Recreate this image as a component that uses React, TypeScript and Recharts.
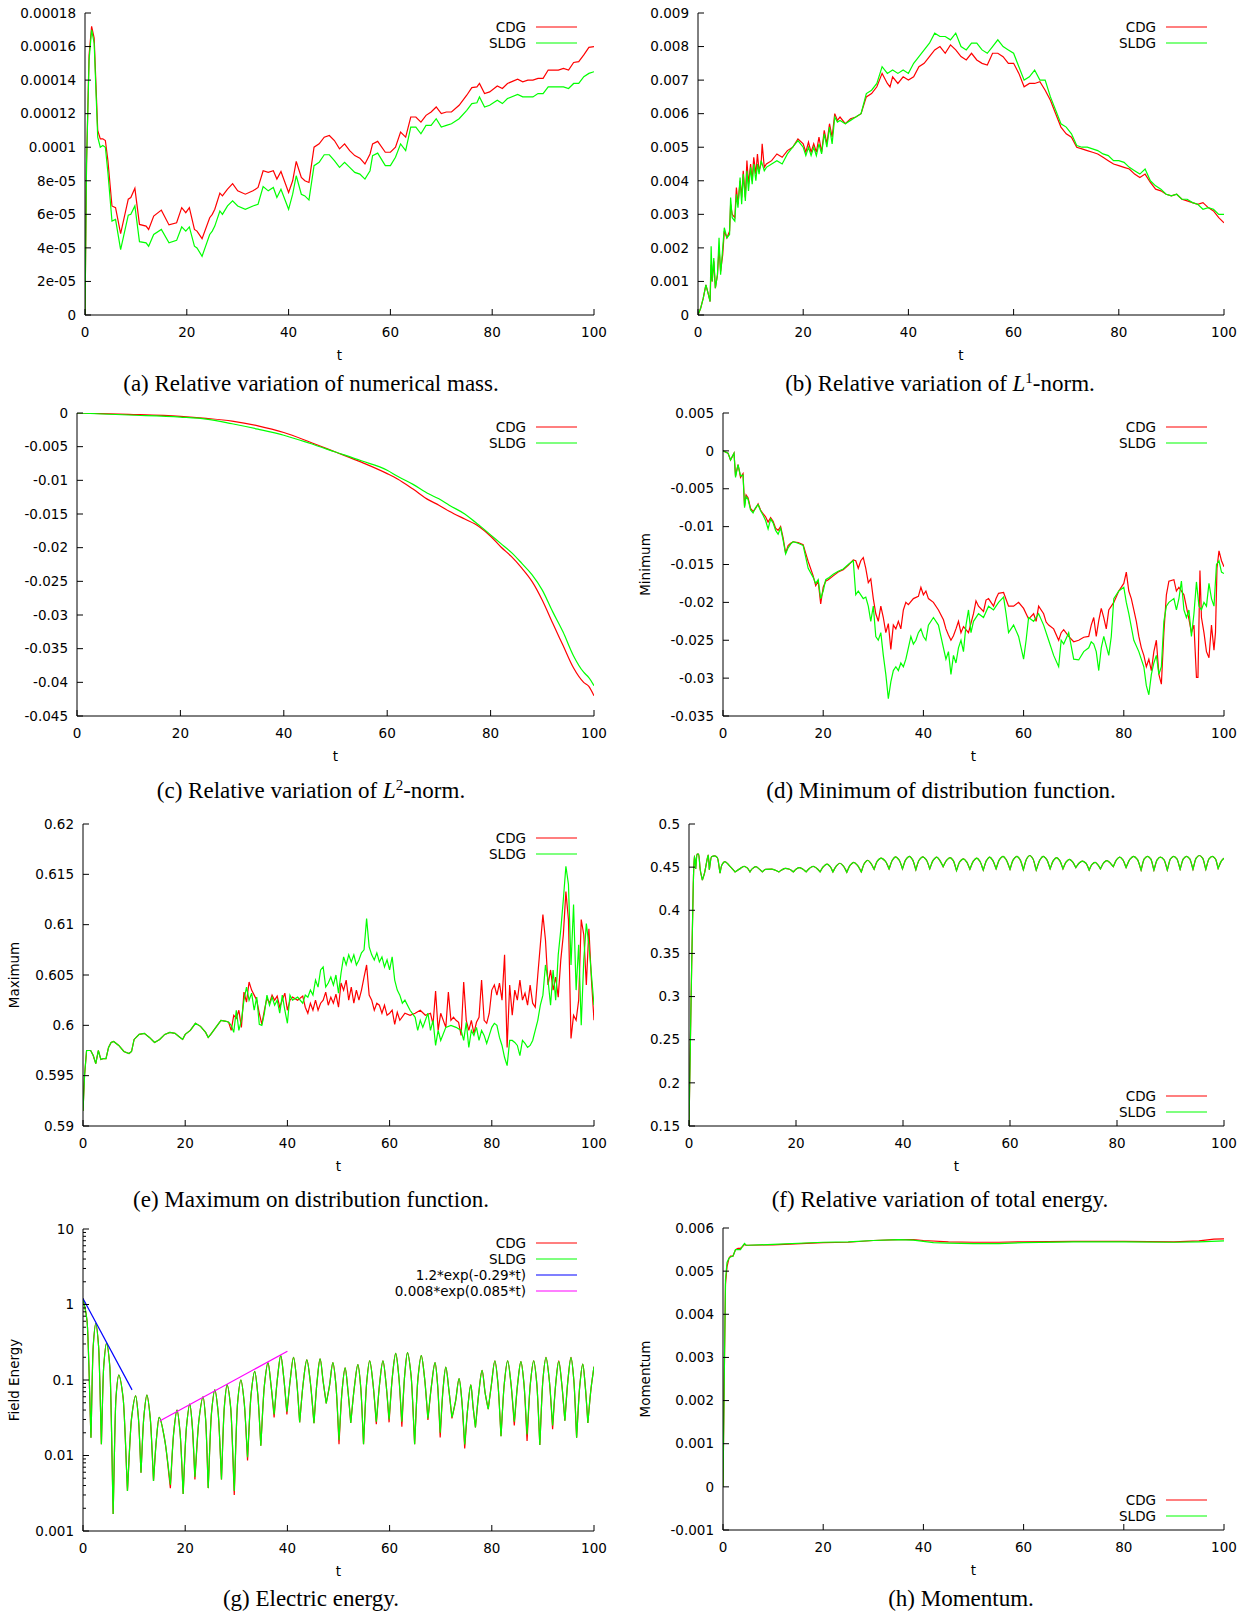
import React from "react"
import { LineChart, Line, XAxis, YAxis } from "recharts"

type Pt = [number, number]

const RED = "#ff0000"
const GREEN = "#00ff00"
const BLUE = "#0000ff"
const MAGENTA = "#ff00ff"
const SANS = "'DejaVu Sans', sans-serif"
const SERIF = "'Liberation Serif', serif"
const FS = 13.5

const X_TICKS = [0, 20, 40, 60, 80, 100]
const X_LABELS = ["0", "20", "40", "60", "80", "100"]

// (a) relative variation of numerical mass, in units of 1e-5
const massCdg: Pt[] = [[0,0],[0.3,9],[0.8,15.5],[1.3,17.2],[1.8,16.5],[2.5,11],[3,10.5],[3.5,10.5],[4,10.4],[4.5,9.2],[5.3,6.5],[6,6.4],[7,4.85],[8.5,6.9],[9,7.0],[9.8,7.55],[10.7,5.4],[12,5.3],[12.5,5.1],[13.5,5.9],[15,6.25],[16.5,5.37],[18,5.5],[19,6.4],[19.8,6.1],[20.5,6.4],[21.5,5.1],[22,5.0],[23,4.55],[24.5,5.8],[25,6.0],[25.5,6.3],[26.5,7.26],[27,7.1],[28,7.5],[29,7.83],[30,7.4],[31.5,7.2],[33,7.4],[34,7.6],[35,8.6],[36,8.5],[37,8.6],[37.7,8.1],[38.5,8.55],[40,7.3],[40.8,8.0],[41.5,9.15],[42.5,8.2],[43.2,8.0],[44,7.9],[45,10.0],[46,10.2],[47,10.6],[48,10.7],[49,10.4],[50,9.9],[51,10.2],[52,9.8],[53,9.5],[54,9.35],[55,9.0],[56,9.6],[56.5,10.2],[57.5,10.35],[59,9.7],[60,9.7],[61,10.0],[62,10.9],[63,10.6],[64,11.8],[65,11.8],[66,11.5],[67,11.9],[68,12.1],[69,12.4],[70,12.0],[71,12.1],[72,12.1],[73.5,12.5],[75,13.1],[76,13.55],[77,13.6],[77.5,13.8],[78.5,13.2],[79.5,13.3],[81,13.65],[82,13.5],[83,13.8],[85,14.05],[86,13.9],[87,14.0],[88,14.0],[89,14.1],[90,14.1],[91,14.6],[93,14.6],[94,14.7],[95,14.6],[96,15.05],[97,15.1],[98,15.5],[99,15.95],[100,16.0]]
const massSldg: Pt[] = [[0,0],[0.3,9],[0.8,15.2],[1.3,17.0],[1.8,16.2],[2.5,10.6],[3,10.0],[3.5,10.1],[4,10.0],[4.5,8.5],[5.3,5.6],[6,5.7],[7,3.9],[8.5,5.95],[9,6.0],[9.8,6.5],[10.7,4.37],[12,4.3],[12.5,4.1],[13.5,4.8],[15,5.1],[16.5,4.3],[18,4.45],[19,5.25],[19.8,5.0],[20.5,5.25],[21.5,4.1],[22,4.0],[23,3.5],[24.5,4.8],[25,5.0],[25.5,5.3],[26.5,6.2],[27,6.0],[28,6.5],[29,6.8],[30,6.5],[31.5,6.3],[33,6.5],[34,6.6],[35,7.65],[36,7.4],[37,7.6],[37.7,7.0],[38.5,7.5],[40,6.3],[40.8,7.2],[41.5,8.3],[42.5,7.2],[43.2,7.1],[44,6.85],[45,8.9],[46,9.1],[47,9.55],[48,9.55],[49,9.2],[50,8.8],[51,9.1],[52,8.8],[53,8.5],[54,8.4],[55,8.1],[56,8.6],[56.5,9.5],[57.5,9.65],[59,8.9],[60,8.9],[61,9.4],[62,10.2],[63,9.8],[64,11.2],[65,11.2],[66,10.8],[67,11.3],[68,11.3],[69,11.7],[70,11.2],[71,11.3],[72,11.4],[73.5,11.7],[75,12.2],[76,12.6],[77,12.65],[77.5,13.0],[78.5,12.4],[79.5,12.5],[81,12.8],[82,12.6],[83,12.9],[85,13.15],[86,13.0],[87,13.0],[88,13.0],[89,13.2],[90,13.2],[91,13.6],[93,13.6],[94,13.6],[95,13.5],[96,13.8],[97,13.8],[98,14.2],[99,14.4],[100,14.5]]
const massTicks = [0, 2, 4, 6, 8, 10, 12, 14, 16, 18]
const massLabels = ["0", "2e-05", "4e-05", "6e-05", "8e-05", "0.0001", "0.00012", "0.00014", "0.00016", "0.00018"]

// (b) relative variation of L1-norm, units of 1e-3
const l1Cdg: Pt[] = [[0,0],[0.5,0.2],[1,0.5],[1.5,0.9],[2,0.6],[2.3,0.4],[2.5,1.5],[2.7,1.0],[3,1.6],[3.3,0.8],[3.7,1.2],[4,2.0],[4.3,1.3],[4.7,1.8],[5,2.5],[5.5,2.3],[6,2.5],[6.2,3.3],[6.5,3.0],[7,2.9],[7.3,3.8],[7.6,3.3],[8,4.0],[8.3,3.5],[8.6,4.3],[9,3.5],[9.3,4.6],[9.6,3.9],[10,4.5],[10.3,4.0],[10.6,4.7],[11,4.2],[11.3,4.8],[11.6,4.3],[12,4.5],[12.2,5.1],[12.6,4.4],[13,4.5],[14,4.6],[15,4.8],[16,4.7],[17,4.9],[18,5.0],[19,5.25],[20,5.1],[20.5,4.85],[21,5.15],[21.5,4.85],[22,5.1],[22.5,4.85],[23,5.3],[23.5,4.85],[24,5.5],[24.5,5.1],[25,5.7],[25.5,5.3],[26,6.0],[26.5,5.8],[27,5.9],[28,5.7],[29,5.85],[30,5.9],[31,6.0],[32,6.5],[33,6.6],[34,6.8],[35,7.2],[36,6.9],[36.5,6.8],[37,7.1],[38,6.9],[39,7.1],[40,7.0],[41,7.1],[42,7.4],[43,7.5],[44,7.7],[45,7.9],[46,8.0],[47,7.8],[48,8.05],[49,7.9],[50,7.7],[51,7.6],[52,7.8],[53,7.6],[54,7.5],[55,7.45],[56,7.8],[57,7.8],[58,7.7],[59,7.5],[60,7.5],[61,7.2],[62,6.8],[63,6.9],[64,6.9],[65,6.95],[66,6.7],[67,6.4],[68,6.0],[69,5.6],[70,5.4],[71,5.3],[72,5.0],[73,4.95],[74,4.9],[75,4.85],[76,4.8],[77,4.7],[78,4.6],[79,4.5],[80,4.45],[81,4.4],[82,4.35],[83,4.2],[84,4.1],[85,4.2],[86,3.95],[87,3.75],[88,3.7],[89,3.6],[90,3.55],[91,3.6],[92,3.45],[93,3.4],[94,3.35],[95,3.3],[96,3.35],[97,3.2],[98,3.1],[99,2.9],[100,2.75]]
const l1Sldg: Pt[] = [[0,0],[0.5,0.2],[1,0.5],[1.5,0.9],[2,0.6],[2.3,0.4],[2.5,2.05],[2.7,1.0],[3,1.7],[3.3,0.8],[3.7,1.2],[4,2.3],[4.3,1.2],[4.7,2.0],[5,2.6],[5.5,2.3],[6,2.4],[6.2,3.5],[6.5,2.9],[7,2.8],[7.3,3.6],[7.6,3.2],[8,4.1],[8.3,3.3],[8.6,4.2],[9,3.4],[9.3,4.3],[9.6,3.7],[10,4.4],[10.3,3.9],[10.6,4.5],[11,4.0],[11.3,4.5],[11.6,4.2],[12,4.6],[12.6,4.3],[13,4.4],[14,4.5],[15,4.6],[16,4.5],[17,4.8],[18,5.0],[19,5.2],[20,5.0],[20.5,4.75],[21,5.0],[21.5,4.75],[22,5.0],[22.5,4.75],[23,5.1],[23.5,4.8],[24,5.4],[24.5,5.0],[25,5.6],[25.5,5.1],[26,5.9],[26.5,5.75],[27,5.8],[28,5.7],[29,5.8],[30,5.9],[31,6.0],[32,6.6],[33,6.7],[34,6.9],[35,7.4],[36,7.2],[37,7.3],[38,7.2],[39,7.3],[40,7.2],[41,7.5],[42,7.7],[43,7.9],[44,8.1],[45,8.4],[46,8.3],[47,8.3],[48,8.2],[49,8.4],[50,8.0],[51,7.9],[52,8.1],[53,8.1],[54,7.9],[55,7.8],[56,8.0],[57,8.2],[58,8.0],[59,7.9],[60,7.8],[61,7.4],[62,7.0],[63,7.1],[64,7.3],[65,7.0],[66,7.0],[67,6.5],[68,6.1],[69,5.7],[70,5.6],[71,5.4],[72,5.05],[73,5.0],[74,5.0],[75,4.95],[76,4.9],[77,4.8],[78,4.75],[79,4.6],[80,4.6],[81,4.55],[82,4.4],[83,4.3],[84,4.2],[85,4.35],[86,4.0],[87,3.85],[88,3.75],[89,3.6],[90,3.55],[91,3.6],[92,3.45],[93,3.45],[94,3.35],[95,3.3],[96,3.15],[97,3.2],[98,3.15],[99,3.0],[100,3.0]]
const l1Ticks = [0, 1, 2, 3, 4, 5, 6, 7, 8, 9]
const l1Labels = ["0", "0.001", "0.002", "0.003", "0.004", "0.005", "0.006", "0.007", "0.008", "0.009"]

// (c) relative variation of L2-norm, units of 1e-3
const l2Cdg: Pt[] = [[0,0],[10,-0.2],[20,-0.5],[25,-0.8],[30,-1.2],[35,-1.9],[40,-2.9],[45,-4.3],[50,-5.8],[55,-7.3],[60,-9.0],[62,-9.8],[65,-11.3],[68,-12.9],[70,-13.7],[72,-14.6],[75,-15.75],[77,-16.5],[78,-17.0],[80,-18.3],[82,-19.9],[84,-21.3],[86,-23.0],[88,-25.0],[90,-27.8],[92,-31.2],[94,-34.5],[96,-37.8],[98,-40.0],[99,-40.6],[100,-42.0]]
const l2Sldg: Pt[] = [[0,0],[10,-0.3],[20,-0.6],[25,-0.9],[30,-1.6],[35,-2.4],[40,-3.3],[45,-4.5],[50,-5.8],[55,-7.1],[60,-8.5],[62,-9.4],[65,-10.6],[68,-12.0],[70,-12.75],[72,-13.7],[75,-15.0],[77,-16.2],[78,-16.8],[80,-18.1],[82,-19.4],[84,-20.7],[86,-22.3],[88,-24.0],[90,-26.3],[92,-29.5],[94,-32.5],[96,-36.0],[98,-38.5],[99,-39.3],[100,-40.5]]
const l2Ticks = [-45, -40, -35, -30, -25, -20, -15, -10, -5, 0]
const l2Labels = ["-0.045", "-0.04", "-0.035", "-0.03", "-0.025", "-0.02", "-0.015", "-0.01", "-0.005", "0"]

// (d) minimum of distribution function, units of 1e-3
const minCdg: Pt[] = [[0,0],[1,-0.3],[1.5,-1.2],[2.2,-0.3],[2.5,-3.3],[3,-1.8],[3.5,-3.5],[4,-3.0],[4.3,-7.3],[4.6,-5.8],[5,-6.2],[5.5,-7.6],[6,-8.0],[6.5,-7.6],[7,-7.0],[7.5,-7.8],[8,-8.3],[8.5,-8.7],[9,-9.4],[9.5,-8.8],[10,-9.3],[10.5,-10.2],[11,-10.5],[11.5,-10.0],[12,-11.5],[12.5,-13.5],[13,-12.5],[13.5,-12.2],[14,-12.0],[15,-12.1],[16,-12.4],[16.5,-13.5],[17,-14.6],[18,-16.5],[18.5,-17.8],[19,-17.2],[19.5,-20.2],[20,-18.0],[20.5,-17.2],[21,-17.0],[22,-16.5],[23,-16.0],[24,-15.7],[25,-15.1],[26,-14.4],[26.5,-14.5],[27,-15.5],[27.5,-14.5],[28,-14.1],[28.5,-15.5],[29,-17.4],[29.5,-16.9],[30,-19.5],[30.5,-21.5],[31,-22.5],[31.5,-20.5],[32,-22.0],[32.5,-24.0],[33,-22.8],[33.5,-26.2],[34,-23.0],[34.5,-23.5],[35,-22.5],[35.5,-23.5],[36,-21.0],[36.5,-20.0],[37,-20.3],[38,-19.5],[39,-19.2],[39.5,-18.0],[40,-19.0],[40.5,-18.5],[41,-19.5],[42,-20.0],[43,-21.0],[44,-22.3],[44.5,-23.5],[45,-24.3],[45.5,-25.0],[46,-24.4],[46.5,-23.5],[47,-22.5],[47.5,-24.0],[48,-23.2],[49,-24.0],[50,-21.5],[50.5,-19.8],[51,-20.5],[52,-21.2],[52.5,-19.7],[53,-19.5],[54,-20.5],[54.5,-19.5],[55,-18.8],[56,-18.7],[57,-20.5],[58,-20.5],[59,-20.0],[60,-20.8],[61,-22.2],[62,-21.5],[62.5,-22.5],[63,-20.5],[64,-21.5],[64.5,-22.6],[65,-23.0],[66,-23.5],[67,-25.0],[67.5,-24.0],[68,-23.6],[69,-24.5],[70,-25.2],[71,-25.0],[72,-24.6],[73,-24.5],[73.5,-23.0],[74,-22.0],[74.5,-24.5],[75,-22.4],[75.5,-20.8],[76,-22.0],[76.5,-23.5],[77,-21.0],[78,-20.0],[79,-18.5],[80,-17.5],[80.5,-16.0],[81,-18.5],[81.5,-19.5],[82,-21.0],[82.5,-22.5],[83,-24.5],[83.5,-26.0],[84,-27.0],[84.5,-28.5],[85,-27.5],[85.5,-29.0],[86,-26.5],[86.5,-25.0],[87,-29.5],[87.5,-30.8],[88,-24.0],[88.5,-19.0],[89,-17.2],[90,-17.0],[90.5,-18.5],[91,-18.0],[92,-19.0],[93,-22.2],[93.5,-24.0],[94,-23.0],[94.5,-29.9],[94.8,-29.9],[95.2,-15.8],[95.5,-22.0],[96,-24.0],[96.5,-26.5],[97,-27.3],[97.5,-23.0],[98,-26.3],[98.3,-24.0],[98.6,-15.5],[99,-13.2],[99.5,-14.5],[100,-15.3]]
const minSldg: Pt[] = [[0,0],[1,-0.3],[1.5,-1.2],[2.2,-0.3],[2.5,-3.5],[3,-1.8],[3.5,-3.3],[4,-3.2],[4.3,-7.5],[4.6,-6.0],[5,-6.4],[5.5,-7.8],[6,-8.2],[6.5,-7.5],[7,-7.1],[7.5,-7.9],[8,-8.5],[8.5,-9.2],[9,-10.3],[9.5,-9.0],[10,-9.5],[10.5,-10.5],[11,-11.0],[11.5,-10.2],[12,-11.8],[12.5,-13.6],[13,-12.8],[13.5,-12.3],[14,-12.0],[15,-12.2],[16,-12.5],[16.5,-14.0],[17,-15.5],[18,-16.7],[18.5,-17.5],[19,-17.0],[19.5,-19.5],[20,-18.5],[20.5,-17.0],[21,-16.8],[22,-16.3],[23,-15.9],[24,-15.6],[25,-15.0],[26,-14.5],[26.5,-19.0],[27,-18.5],[27.5,-19.0],[28,-19.5],[28.5,-19.3],[29,-20.5],[29.5,-22.5],[30,-20.5],[30.5,-24.5],[31,-25.0],[31.5,-24.0],[32,-27.0],[32.5,-29.5],[33,-32.7],[33.5,-30.5],[34,-29.0],[34.5,-28.5],[35,-29.0],[35.5,-28.0],[36,-28.5],[36.5,-27.5],[37,-26.0],[37.5,-24.5],[38,-25.5],[38.5,-25.0],[39,-24.0],[39.5,-23.5],[40,-24.5],[40.5,-25.0],[41,-23.0],[42,-22.0],[43,-23.0],[44,-26.0],[44.5,-27.5],[45,-26.5],[45.5,-29.5],[46,-27.0],[46.5,-28.0],[47,-26.0],[47.5,-25.0],[48,-26.5],[48.5,-23.0],[49,-21.0],[49.5,-24.0],[50,-22.5],[51,-21.5],[52,-22.0],[53,-20.5],[54,-21.0],[55,-20.0],[56,-19.3],[56.5,-21.5],[57,-24.0],[58,-23.0],[59,-24.5],[60,-27.5],[60.5,-25.0],[61,-22.0],[62,-22.5],[63,-21.5],[64,-23.0],[65,-25.0],[66,-27.0],[67,-28.5],[67.5,-25.0],[68,-25.5],[69,-24.0],[70,-27.5],[71,-27.6],[72,-26.5],[73,-26.0],[73.5,-25.2],[74,-25.5],[74.5,-26.5],[75,-29.0],[75.5,-26.0],[76,-24.5],[77,-27.0],[77.5,-24.5],[78,-19.5],[79,-18.5],[80,-18.0],[80.5,-20.0],[81,-21.5],[82,-25.0],[83,-26.5],[84,-28.5],[84.5,-31.0],[85,-32.2],[85.5,-29.5],[86,-28.0],[86.5,-27.0],[87,-29.5],[87.5,-28.5],[88,-22.5],[88.5,-20.5],[89,-20.0],[90,-19.5],[90.5,-21.0],[91,-19.5],[91.5,-17.2],[92,-21.0],[92.5,-22.0],[93,-21.0],[93.5,-24.5],[94,-21.5],[94.5,-17.3],[95,-20.5],[95.5,-21.0],[96,-20.0],[96.5,-20.5],[97,-17.5],[97.5,-19.5],[98,-20.5],[98.5,-15.0],[99,-14.5],[99.5,-16.0],[100,-16.2]]
const minTicks = [-35, -30, -25, -20, -15, -10, -5, 0, 5]
const minLabels = ["-0.035", "-0.03", "-0.025", "-0.02", "-0.015", "-0.01", "-0.005", "0", "0.005"]

// (e) maximum of distribution function
const maxCdg: Pt[] = [[0,0.5915],[0.3,0.595],[0.7,0.5975],[1.5,0.5975],[2,0.597],[2.5,0.5962],[3,0.5975],[3.5,0.5966],[4,0.5967],[4.5,0.5967],[5,0.5978],[5.5,0.5983],[6,0.5984],[7,0.598],[8,0.5974],[9,0.5972],[9.5,0.5974],[10,0.5986],[11,0.5991],[12,0.5992],[13,0.5988],[14,0.5983],[15,0.5986],[16,0.5991],[17,0.5993],[18,0.5992],[19,0.5988],[19.5,0.5986],[20,0.5991],[21,0.5995],[22,0.6002],[23,0.5999],[24,0.5993],[24.5,0.5988],[25,0.5991],[26,0.5998],[27,0.6005],[28,0.6004],[28.5,0.6003],[29,0.5995],[29.5,0.601],[30,0.6007],[30.5,0.6015],[31,0.5998],[31.5,0.6033],[32,0.6023],[32.5,0.6043],[33,0.6035],[33.5,0.603],[34,0.6025],[34.5,0.6012],[35,0.6001],[35.5,0.6015],[36,0.6027],[36.5,0.6022],[37,0.603],[37.5,0.6025],[38,0.6029],[38.5,0.6018],[39,0.6025],[39.5,0.6032],[40,0.6015],[40.5,0.6025],[41,0.6028],[42,0.6025],[43,0.6029],[43.5,0.6018],[44,0.6012],[44.5,0.6022],[45,0.6015],[45.5,0.6025],[46,0.6015],[46.5,0.6022],[47,0.6025],[47.5,0.6033],[48,0.602],[48.5,0.6028],[49,0.6022],[49.5,0.6031],[50,0.6018],[50.5,0.6042],[51,0.6035],[51.5,0.6045],[52,0.6025],[52.5,0.6038],[53,0.6022],[53.5,0.6035],[54,0.6025],[54.5,0.6035],[55,0.6048],[55.5,0.606],[56,0.603],[56.5,0.6025],[57,0.6015],[57.5,0.6022],[58,0.602],[58.5,0.6012],[59,0.602],[59.5,0.601],[60,0.6012],[60.5,0.6015],[61,0.6001],[61.5,0.6013],[62,0.6005],[63,0.6012],[64,0.601],[65,0.6012],[66,0.6015],[67,0.601],[68,0.6012],[68.5,0.6001],[69,0.6034],[69.5,0.5995],[70,0.6012],[71,0.5998],[71.5,0.6033],[72,0.6005],[72.5,0.6008],[73,0.6005],[73.5,0.6003],[74,0.599],[74.5,0.6043],[75,0.6005],[75.5,0.5995],[76,0.6005],[76.5,0.5992],[77,0.6003],[77.5,0.6008],[78,0.6045],[78.5,0.6005],[79,0.6002],[79.5,0.6012],[80,0.6035],[80.5,0.604],[81,0.603],[81.5,0.6042],[82,0.6025],[82.5,0.607],[83,0.5978],[83.5,0.604],[84,0.601],[84.5,0.6035],[85,0.6025],[85.5,0.6045],[86,0.6025],[86.5,0.6032],[87,0.602],[87.5,0.604],[88,0.6022],[88.5,0.6018],[89,0.605],[89.5,0.608],[90,0.611],[90.5,0.6085],[91,0.604],[91.5,0.6055],[92,0.6035],[92.5,0.6048],[93,0.6028],[93.5,0.6065],[94,0.609],[94.5,0.6133],[95,0.6105],[95.5,0.5987],[96,0.601],[96.5,0.6005],[97,0.6025],[97.5,0.6105],[98,0.609],[98.5,0.604],[99,0.6096],[99.5,0.6045],[100,0.6005]]
const maxSldg: Pt[] = [[0,0.5915],[0.3,0.595],[0.7,0.5975],[1.5,0.5975],[2,0.597],[2.5,0.5962],[3,0.5975],[3.5,0.5966],[4,0.5967],[4.5,0.5967],[5,0.5978],[5.5,0.5983],[6,0.5984],[7,0.598],[8,0.5974],[9,0.5972],[9.5,0.5974],[10,0.5986],[11,0.5991],[12,0.5992],[13,0.5988],[14,0.5983],[15,0.5986],[16,0.5991],[17,0.5993],[18,0.5992],[19,0.5988],[19.5,0.5986],[20,0.5991],[21,0.5995],[22,0.6002],[23,0.5999],[24,0.5993],[24.5,0.5988],[25,0.5991],[26,0.5998],[27,0.6005],[28,0.6004],[28.5,0.6003],[29,0.6],[29.5,0.5993],[30,0.6015],[30.5,0.5995],[31,0.6005],[31.5,0.6025],[32,0.6038],[32.5,0.6025],[33,0.6032],[33.5,0.6015],[34,0.6028],[34.5,0.6001],[35,0.6],[35.5,0.6012],[36,0.603],[36.5,0.602],[37,0.6028],[37.5,0.602],[38,0.6025],[38.5,0.6012],[39,0.603],[39.5,0.6015],[40,0.6002],[40.5,0.603],[41,0.6025],[42,0.6028],[43,0.6022],[43.5,0.603],[44,0.6028],[44.5,0.6035],[45,0.603],[45.5,0.6045],[46,0.6038],[46.5,0.6055],[47,0.6058],[47.5,0.6038],[48,0.6042],[48.5,0.6048],[49,0.604],[49.5,0.605],[50,0.6032],[50.5,0.6052],[51,0.6068],[51.5,0.606],[52,0.607],[52.5,0.6063],[53,0.607],[53.5,0.606],[54,0.6065],[54.5,0.6072],[55,0.6075],[55.5,0.6106],[56,0.6078],[56.5,0.607],[57,0.6065],[57.5,0.6072],[58,0.6063],[58.5,0.6068],[59,0.6058],[59.5,0.6065],[60,0.6055],[60.5,0.6068],[61,0.6045],[61.5,0.6035],[62,0.603],[62.5,0.6022],[63,0.6025],[64,0.6015],[65,0.6008],[65.5,0.5995],[66,0.6005],[66.5,0.5998],[67,0.6005],[67.5,0.6012],[68,0.5995],[68.5,0.6005],[69,0.598],[69.5,0.5995],[70,0.5985],[71,0.5998],[72,0.6],[73,0.5998],[74,0.5995],[74.5,0.5985],[75,0.6003],[75.5,0.5978],[76,0.5995],[76.5,0.599],[77,0.5998],[77.5,0.5985],[78,0.5995],[78.5,0.599],[79,0.5982],[79.5,0.599],[80,0.5998],[80.5,0.6002],[81,0.6],[81.5,0.5988],[82,0.598],[82.5,0.5968],[83,0.596],[83.5,0.5985],[84,0.5985],[84.5,0.5983],[85,0.598],[85.5,0.597],[86,0.5985],[86.5,0.5982],[87,0.5978],[87.5,0.598],[88,0.5985],[88.5,0.5995],[89,0.6005],[89.5,0.602],[90,0.603],[90.5,0.606],[91,0.6045],[91.5,0.602],[92,0.6055],[92.5,0.6025],[93,0.607],[93.5,0.6095],[94,0.6125],[94.5,0.6158],[95,0.614],[95.5,0.606],[96,0.612],[96.5,0.6035],[97,0.608],[97.5,0.6],[98,0.6065],[98.5,0.6101],[99,0.608],[99.5,0.605],[100,0.602]]
const maxTicks = [0.59, 0.595, 0.6, 0.605, 0.61, 0.615, 0.62]
const maxLabels = ["0.59", "0.595", "0.6", "0.605", "0.61", "0.615", "0.62"]

// (f) relative variation of total energy (both runs lie on top of each other)
const energyCdg: Pt[] = [[0,0.15],[0.4,0.3],[0.8,0.43],[1,0.463],[1.25,0.448],[1.5,0.465],[1.8,0.465],[2.1,0.447],[2.5,0.435],[2.9,0.443],[3.3,0.456],[3.6,0.464],[3.8,0.447],[4.2,0.462],[4.8,0.463],[5.3,0.461],[5.8,0.443],[6.1,0.452],[6.7,0.4565],[7.5,0.452],[8.6,0.4445],[9.5,0.448],[10.3,0.451],[10.9,0.449],[11.4,0.4445],[11.8,0.448],[12.5,0.4505],[13.1,0.448],[13.7,0.4445],[14.3,0.4475],[15.5,0.4478],[16.8,0.4445],[17.4,0.447],[18,0.4485],[18.8,0.4475],[19.5,0.4445],[20,0.4475],[20.6,0.4495],[21.3,0.4475],[21.9,0.4445],[22.5,0.4485],[23.2,0.451],[23.9,0.4485],[24.5,0.4445],[25.1,0.4505],[25.8,0.4535],[26.4,0.4505],[26.9,0.4445],[27.5,0.451],[28.2,0.4545],[28.9,0.451],[29.5,0.444],[30.1,0.452],[30.8,0.4555],[31.5,0.452],[32.2,0.4445],[32.8,0.4545],[33.4,0.458],[34,0.4545],[34.6,0.4475],[35.2,0.457],[35.9,0.4605],[36.7,0.457],[37.4,0.448],[38,0.458],[38.6,0.462],[39.3,0.458],[39.9,0.448],[40.5,0.4585],[41.2,0.4625],[41.8,0.4585],[42.4,0.447],[43,0.458],[43.7,0.462],[44.4,0.458],[45,0.448],[45.6,0.4575],[46.3,0.4615],[46.9,0.4575],[47.5,0.4505],[48.1,0.4575],[48.8,0.461],[49.4,0.4575],[50,0.446],[50.6,0.456],[51.3,0.4595],[51.9,0.456],[52.5,0.4475],[53.1,0.4565],[53.8,0.4605],[54.4,0.4565],[55,0.4465],[55.6,0.4575],[56.2,0.4615],[56.8,0.4575],[57.4,0.448],[58,0.4585],[58.7,0.4625],[59.3,0.4585],[60,0.4475],[60.6,0.4585],[61.3,0.4625],[61.9,0.4585],[62.5,0.447],[63.1,0.4595],[63.7,0.4635],[64.3,0.4595],[64.9,0.4465],[65.6,0.4585],[66.2,0.4625],[66.9,0.4585],[67.5,0.448],[68.1,0.4575],[68.7,0.461],[69.3,0.4575],[69.9,0.448],[70.5,0.456],[71.1,0.459],[71.7,0.456],[72.3,0.4495],[72.9,0.4545],[73.5,0.457],[74.2,0.4545],[74.8,0.4465],[75.3,0.453],[75.9,0.4555],[76.4,0.453],[76.9,0.448],[77.5,0.455],[78.1,0.4575],[78.7,0.455],[79.3,0.4505],[79.9,0.4585],[80.5,0.4615],[81.1,0.4585],[81.7,0.4495],[82.4,0.459],[83.1,0.4625],[83.8,0.459],[84.5,0.4465],[85.1,0.4595],[85.7,0.4625],[86.3,0.4595],[86.9,0.4465],[87.5,0.4585],[88.1,0.4615],[88.8,0.4585],[89.4,0.4465],[90,0.4595],[90.6,0.4625],[91.2,0.4595],[91.8,0.4475],[92.4,0.4595],[93,0.4625],[93.6,0.4595],[94.2,0.4475],[94.8,0.4605],[95.4,0.4635],[96,0.4605],[96.6,0.4475],[97.2,0.4595],[97.8,0.4625],[98.4,0.4595],[98.9,0.4485],[99.5,0.457],[100,0.4605]]
const energySldg: Pt[] = energyCdg
const energyTicks = [0.15, 0.2, 0.25, 0.3, 0.35, 0.4, 0.45, 0.5]
const energyLabels = ["0.15", "0.2", "0.25", "0.3", "0.35", "0.4", "0.45", "0.5"]

// (g) electric (field) energy, log scale
const fieldSldg: Pt[] = [[0,1.2],[0.8,0.6],[1.56,0.0172],[2.0,0.28],[2.5,0.56],[3.05,0.28],[3.6,0.0141],[4.05,0.15],[4.6,0.306],[5.25,0.15],[5.9,0.00168],[6.45,0.058],[7.0,0.116],[7.85,0.058],[8.7,0.0034],[9.5,0.031],[10.3,0.0616],[10.85,0.031],[11.35,0.0059],[11.9,0.032],[12.5,0.063],[13.15,0.032],[13.8,0.0046],[14.35,0.016],[14.9,0.032],[16.0,0.016],[17.1,0.0041],[17.75,0.02],[18.4,0.04],[19.0,0.02],[19.6,0.0031],[20.25,0.024],[20.9,0.048],[21.4,0.024],[21.9,0.0052],[22.7,0.03],[23.5,0.06],[24.0,0.03],[24.5,0.0037],[25.15,0.037],[25.8,0.074],[26.45,0.037],[27.1,0.0048],[27.65,0.043],[28.2,0.086],[28.9,0.043],[29.6,0.0034],[30.25,0.05],[30.9,0.1],[31.55,0.05],[32.2,0.0095],[32.9,0.065],[33.6,0.13],[34.2,0.065],[34.8,0.0135],[35.5,0.085],[36.2,0.17],[36.8,0.085],[37.4,0.035],[38.05,0.105],[38.7,0.21],[39.3,0.105],[39.9,0.038],[40.55,0.1],[41.2,0.2],[41.8,0.1],[42.4,0.0275],[43.1,0.092],[43.8,0.185],[44.5,0.092],[45.2,0.0268],[45.8,0.095],[46.4,0.19],[47.0,0.095],[47.6,0.049],[48.25,0.085],[48.9,0.17],[49.5,0.085],[50.1,0.016],[50.7,0.072],[51.3,0.145],[51.85,0.072],[52.4,0.027],[53.1,0.08],[53.8,0.16],[54.35,0.08],[54.9,0.0141],[55.5,0.09],[56.1,0.18],[56.75,0.09],[57.4,0.028],[58.05,0.09],[58.7,0.18],[59.3,0.09],[59.9,0.03],[60.55,0.112],[61.2,0.225],[61.8,0.112],[62.4,0.028],[62.95,0.115],[63.5,0.23],[64.2,0.115],[64.9,0.0141],[65.55,0.105],[66.2,0.21],[66.85,0.105],[67.5,0.031],[68.2,0.085],[68.9,0.17],[69.4,0.085],[69.9,0.02],[70.45,0.074],[71.0,0.148],[71.6,0.074],[72.2,0.032],[72.9,0.052],[73.6,0.104],[74.15,0.052],[74.7,0.014],[75.3,0.043],[75.9,0.086],[76.35,0.043],[76.8,0.0235],[77.45,0.067],[78.1,0.134],[78.7,0.067],[79.3,0.041],[79.95,0.09],[80.6,0.18],[81.2,0.09],[81.8,0.018],[82.45,0.09],[83.1,0.18],[83.75,0.09],[84.4,0.028],[85.05,0.088],[85.7,0.175],[86.3,0.088],[86.9,0.019],[87.55,0.09],[88.2,0.18],[88.8,0.09],[89.4,0.0138],[90.0,0.1],[90.6,0.198],[91.25,0.1],[91.9,0.025],[92.5,0.088],[93.1,0.175],[93.7,0.088],[94.3,0.029],[94.9,0.1],[95.5,0.198],[96.05,0.1],[96.6,0.0172],[97.2,0.081],[97.8,0.162],[98.3,0.081],[98.8,0.027],[99.4,0.075],[100,0.15]]
const fieldCdg: Pt[] = [[0,1.2],[0.8,0.6],[1.56,0.0172],[2.0,0.28],[2.5,0.56],[3.05,0.28],[3.6,0.0141],[4.05,0.15],[4.6,0.306],[5.25,0.15],[5.9,0.00168],[6.45,0.058],[7.0,0.116],[7.85,0.058],[8.7,0.0034],[9.5,0.031],[10.3,0.0616],[10.85,0.031],[11.35,0.0059],[11.9,0.032],[12.5,0.063],[13.15,0.032],[13.8,0.0046],[14.35,0.016],[14.9,0.032],[16.0,0.016],[17.1,0.0037],[17.75,0.02],[18.4,0.04],[19.0,0.02],[19.6,0.0031],[20.25,0.024],[20.9,0.048],[21.4,0.024],[21.9,0.0048],[22.7,0.03],[23.5,0.06],[24.0,0.03],[24.5,0.0037],[25.15,0.037],[25.8,0.074],[26.45,0.037],[27.1,0.0048],[27.65,0.043],[28.2,0.086],[28.9,0.043],[29.6,0.003],[30.25,0.05],[30.9,0.1],[31.55,0.05],[32.2,0.0086],[32.9,0.065],[33.6,0.13],[34.2,0.065],[34.8,0.0135],[35.5,0.085],[36.2,0.17],[36.8,0.085],[37.4,0.032],[38.05,0.105],[38.7,0.21],[39.3,0.105],[39.9,0.035],[40.55,0.1],[41.2,0.2],[41.8,0.1],[42.4,0.0275],[43.1,0.092],[43.8,0.185],[44.5,0.092],[45.2,0.0268],[45.8,0.095],[46.4,0.19],[47.0,0.095],[47.6,0.049],[48.25,0.085],[48.9,0.17],[49.5,0.085],[50.1,0.0141],[50.7,0.072],[51.3,0.145],[51.85,0.072],[52.4,0.027],[53.1,0.08],[53.8,0.16],[54.35,0.08],[54.9,0.0141],[55.5,0.09],[56.1,0.18],[56.75,0.09],[57.4,0.026],[58.05,0.09],[58.7,0.18],[59.3,0.09],[59.9,0.0275],[60.55,0.112],[61.2,0.225],[61.8,0.112],[62.4,0.024],[62.95,0.115],[63.5,0.23],[64.2,0.115],[64.9,0.0141],[65.55,0.105],[66.2,0.21],[66.85,0.105],[67.5,0.0295],[68.2,0.085],[68.9,0.17],[69.4,0.085],[69.9,0.0173],[70.45,0.074],[71.0,0.148],[71.6,0.074],[72.2,0.031],[72.9,0.052],[73.6,0.104],[74.15,0.052],[74.7,0.0124],[75.3,0.043],[75.9,0.086],[76.35,0.043],[76.8,0.0235],[77.45,0.067],[78.1,0.134],[78.7,0.067],[79.3,0.041],[79.95,0.09],[80.6,0.18],[81.2,0.09],[81.8,0.018],[82.45,0.09],[83.1,0.18],[83.75,0.09],[84.4,0.025],[85.05,0.088],[85.7,0.175],[86.3,0.088],[86.9,0.0156],[87.55,0.09],[88.2,0.18],[88.8,0.09],[89.4,0.0138],[90.0,0.1],[90.6,0.2],[91.25,0.1],[91.9,0.0223],[92.5,0.088],[93.1,0.18],[93.7,0.088],[94.3,0.029],[94.9,0.1],[95.5,0.2],[96.05,0.1],[96.6,0.0172],[97.2,0.081],[97.8,0.162],[98.3,0.081],[98.8,0.027],[99.4,0.075],[100,0.15]]
const dampFit: Pt[] = [[0,1.2],[9.6,0.074]]
const growFit: Pt[] = [[15,0.0286],[40,0.24]]
const fieldTicks = [0.001,0.002,0.003,0.004,0.005,0.006,0.007,0.008,0.009,0.01,0.02,0.03,0.04,0.05,0.06,0.07,0.08,0.09,0.1,0.2,0.3,0.4,0.5,0.6,0.7,0.8,0.9,1,2,3,4,5,6,7,8,9,10]
const fieldLabels = ["0.001","","","","","","","","","0.01","","","","","","","","","0.1","","","","","","","","","1","","","","","","","","","10"]

// (h) momentum, units of 1e-3
const momCdg: Pt[] = [[0,0],[0.3,3.0],[0.5,4.7],[0.8,5.1],[1.2,5.3],[1.5,5.35],[2,5.35],[2.5,5.5],[3,5.53],[3.5,5.53],[4,5.58],[4.3,5.62],[4.6,5.6],[5,5.6],[10,5.61],[20,5.66],[25,5.67],[30,5.71],[35,5.73],[38,5.73],[40,5.71],[45,5.68],[50,5.67],[55,5.67],[60,5.68],[70,5.69],[80,5.69],[90,5.68],[95,5.7],[98,5.74],[100,5.75]]
const momSldg: Pt[] = [[0,0],[0.3,3.0],[0.5,4.8],[0.8,5.2],[1.2,5.3],[1.5,5.33],[2,5.35],[2.5,5.5],[3,5.5],[3.5,5.5],[4,5.6],[4.3,5.64],[4.6,5.6],[5,5.6],[10,5.62],[20,5.67],[25,5.68],[30,5.71],[35,5.73],[38,5.72],[40,5.69],[42,5.66],[45,5.65],[50,5.64],[55,5.64],[60,5.66],[70,5.68],[80,5.68],[90,5.67],[95,5.68],[100,5.7]]
const momTicks = [-1, 0, 1, 2, 3, 4, 5, 6]
const momLabels = ["-0.001", "0", "0.001", "0.002", "0.003", "0.004", "0.005", "0.006"]

// curve: smooth (monotone) everywhere except at local minima, which stay sharp cusps
// like the |E|-type oscillations gnuplot draws
const cuspCurve = (ctx: any) => {
  let xs: number[] = []
  let ys: number[] = []
  const flush = () => {
    const n = xs.length
    if (!n) return
    ctx.moveTo(xs[0], ys[0])
    if (n === 1) return
    const sec = (i: number) => (ys[i + 1] - ys[i]) / (xs[i + 1] - xs[i] || 1e-9)
    const tin: number[] = []
    const tout: number[] = []
    for (let i = 0; i < n; i++) {
      if (i === 0) { tin[i] = tout[i] = sec(0); continue }
      if (i === n - 1) { tin[i] = tout[i] = sec(n - 2); continue }
      const sl = sec(i - 1)
      const sr = sec(i)
      if (ys[i] > ys[i - 1] && ys[i] > ys[i + 1]) { tin[i] = sl; tout[i] = sr }
      else if (sl * sr <= 0) { tin[i] = tout[i] = 0 }
      else { tin[i] = tout[i] = (2 * sl * sr) / (sl + sr) }
    }
    for (let i = 0; i < n - 1; i++) {
      const h = xs[i + 1] - xs[i]
      ctx.bezierCurveTo(xs[i] + h / 3, ys[i] + (tout[i] * h) / 3, xs[i + 1] - h / 3, ys[i + 1] - (tin[i + 1] * h) / 3, xs[i + 1], ys[i + 1])
    }
  }
  return {
    areaStart() {},
    areaEnd() {},
    lineStart() { xs = []; ys = [] },
    lineEnd() { flush() },
    point(x: number, y: number) { xs.push(+x); ys.push(+y) },
  }
}

type Curve = "linear" | "monotone" | typeof cuspCurve
interface Series { name: string; color: string; data: Pt[]; curve?: Curve }
interface PanelProps {
  left: number; right: number; top: number; bottom: number
  yDomain: [number, number]; yTicks: number[]; yLabels: string[]; log?: boolean
  series: Series[]; legendAt: "top" | "bottom"
  yTitle?: string; yTitleX?: number
  caption: React.ReactNode; capX: number; capY: number
}

const AXIS_W = 72
const TOP_PAD = 12
const RIGHT_PAD = 24
const X_AXIS_H = 44

const labelFor = (ticks: number[], labels: string[], v: number) => {
  const i = ticks.findIndex((t) => Math.abs(t - v) < 1e-12)
  return i < 0 ? "" : labels[i]
}
const toRows = (pts: Pt[]) => pts.map(([t, v]) => ({ t, v }))

const txt = { fontFamily: SANS, fontSize: FS, fill: "#000" }

function Panel(p: PanelProps) {
  const w = p.right - p.left
  const h = p.bottom - p.top
  const lbl = (v: number) => labelFor(p.yTicks, p.yLabels, v)
  const yScale = p.log ? "log" : "linear"

  const bottomTick = (tp: any) => (
    <g>
      <line x1={tp.x} y1={tp.y} x2={tp.x} y2={tp.y - 6} stroke="#000" />
      <text x={tp.x} y={tp.y + 17} dy="0.35em" textAnchor="middle" {...txt}>
        {labelFor(X_TICKS, X_LABELS, tp.payload.value)}
      </text>
    </g>
  )
  const topTick = (tp: any) => <line x1={tp.x} y1={tp.y} x2={tp.x} y2={tp.y + 6} stroke="#000" />
  const leftTick = (tp: any) => {
    const l = lbl(tp.payload.value)
    return (
      <g>
        <line x1={tp.x} y1={tp.y} x2={tp.x + (l ? 6 : 3)} y2={tp.y} stroke="#000" />
        {l && <text x={tp.x - 9} y={tp.y} dy="0.35em" textAnchor="end" {...txt}>{l}</text>}
      </g>
    )
  }
  const rightTick = (tp: any) => {
    const l = lbl(tp.payload.value)
    return <line x1={tp.x} y1={tp.y} x2={tp.x - (l ? 6 : 3)} y2={tp.y} stroke="#000" />
  }

  const legendY = (i: number) =>
    p.legendAt === "top" ? p.top + 14 + 16 * i : p.bottom - 14 - 16 * (p.series.length - 1 - i)

  return (
    <>
      <div style={{ position: "absolute", left: p.left - AXIS_W, top: p.top - TOP_PAD }}>
        <LineChart
          width={w + AXIS_W + RIGHT_PAD}
          height={h + TOP_PAD + X_AXIS_H}
          margin={{ top: TOP_PAD, right: RIGHT_PAD, bottom: 0, left: 0 }}
        >
          <XAxis type="number" dataKey="t" domain={[0, 100]} ticks={X_TICKS} interval={0} allowDataOverflow
            height={X_AXIS_H} tickSize={0} tickMargin={0} tickLine={false} axisLine={{ stroke: "#000" }} tick={bottomTick} />
          <XAxis xAxisId="top" orientation="top" type="number" dataKey="t" domain={[0, 100]} ticks={X_TICKS} interval={0}
            allowDataOverflow height={0} tickSize={0} tickMargin={0} tickLine={false} axisLine={{ stroke: "#000" }} tick={topTick} />
          <YAxis type="number" scale={yScale} domain={p.yDomain} ticks={p.yTicks} interval={0} allowDataOverflow
            width={AXIS_W} tickSize={0} tickMargin={0} tickLine={false} axisLine={{ stroke: "#000" }} tick={leftTick} />
          <YAxis yAxisId="right" orientation="right" type="number" scale={yScale} domain={p.yDomain} ticks={p.yTicks}
            interval={0} allowDataOverflow width={0} tickSize={0} tickMargin={0} tickLine={false}
            axisLine={{ stroke: "#000" }} tick={rightTick} />
          {p.series.map((s) => (
            <Line key={s.name} data={toRows(s.data)} dataKey="v" type={(s.curve ?? "linear") as any} stroke={s.color}
              strokeWidth={1.2} dot={false} activeDot={false} isAnimationActive={false} />
          ))}
        </LineChart>
      </div>
      <svg width={1253} height={1613} style={{ position: "absolute", left: 0, top: 0, pointerEvents: "none" }}>
        {p.series.map((s, i) => (
          <g key={s.name}>
            <text x={p.right - 68} y={legendY(i)} dy="0.35em" textAnchor="end" {...txt}>{s.name}</text>
            <line x1={p.right - 58} x2={p.right - 17} y1={legendY(i)} y2={legendY(i)} stroke={s.color} strokeWidth={1.2} />
          </g>
        ))}
        <text x={(p.left + p.right) / 2} y={p.bottom + 40} dy="0.35em" textAnchor="middle" {...txt}>t</text>
        {p.yTitle && (
          <text transform={`translate(${p.yTitleX}, ${(p.top + p.bottom) / 2}) rotate(-90)`} dy="0.35em"
            textAnchor="middle" {...txt}>{p.yTitle}</text>
        )}
      </svg>
      <div
        style={{
          position: "absolute", left: p.capX, top: p.capY, transform: "translate(-50%, -50%)",
          whiteSpace: "nowrap", fontFamily: SERIF, fontSize: 23, color: "#000", lineHeight: 1,
        }}
      >
        {p.caption}
      </div>
    </>
  )
}

const cdgSldg = (cdg: Pt[], sldg: Pt[], curve: Curve = "linear"): Series[] => [
  { name: "CDG", color: RED, data: cdg, curve },
  { name: "SLDG", color: GREEN, data: sldg, curve },
]

const Lnorm = ({ k }: { k: number }) => (
  <>
    <i>L</i><sup style={{ fontSize: 15, verticalAlign: "8px", lineHeight: 0 }}>{k}</sup>
  </>
)

const PANELS: PanelProps[] = [
  {
    left: 85, right: 594, top: 13, bottom: 315, yDomain: [0, 18], yTicks: massTicks, yLabels: massLabels,
    series: cdgSldg(massCdg, massSldg), legendAt: "top",
    caption: "(a) Relative variation of numerical mass.", capX: 311, capY: 383,
  },
  {
    left: 698, right: 1224, top: 13, bottom: 315, yDomain: [0, 9], yTicks: l1Ticks, yLabels: l1Labels,
    series: cdgSldg(l1Cdg, l1Sldg), legendAt: "top",
    caption: <>(b) Relative variation of <Lnorm k={1} />-norm.</>, capX: 940, capY: 383,
  },
  {
    left: 77, right: 594, top: 413, bottom: 716, yDomain: [-45, 0], yTicks: l2Ticks, yLabels: l2Labels,
    series: cdgSldg(l2Cdg, l2Sldg, "monotone"), legendAt: "top",
    caption: <>(c) Relative variation of <Lnorm k={2} />-norm.</>, capX: 311, capY: 790,
  },
  {
    left: 723, right: 1224, top: 413, bottom: 716, yDomain: [-35, 5], yTicks: minTicks, yLabels: minLabels,
    series: cdgSldg(minCdg, minSldg), legendAt: "top", yTitle: "Minimum", yTitleX: 645,
    caption: "(d) Minimum of distribution function.", capX: 941, capY: 790,
  },
  {
    left: 83, right: 594, top: 824, bottom: 1126, yDomain: [0.59, 0.62], yTicks: maxTicks, yLabels: maxLabels,
    series: cdgSldg(maxCdg, maxSldg), legendAt: "top", yTitle: "Maximum", yTitleX: 14,
    caption: "(e) Maximum on distribution function.", capX: 311, capY: 1199,
  },
  {
    left: 689, right: 1224, top: 824, bottom: 1126, yDomain: [0.15, 0.5], yTicks: energyTicks, yLabels: energyLabels,
    series: cdgSldg(energyCdg, energySldg, cuspCurve), legendAt: "bottom",
    caption: "(f) Relative variation of total energy.", capX: 940, capY: 1199,
  },
  {
    left: 83, right: 594, top: 1229, bottom: 1531, yDomain: [0.001, 10], yTicks: fieldTicks, yLabels: fieldLabels, log: true,
    series: [
      ...cdgSldg(fieldCdg, fieldSldg, cuspCurve),
      { name: "1.2*exp(-0.29*t)", color: BLUE, data: dampFit },
      { name: "0.008*exp(0.085*t)", color: MAGENTA, data: growFit },
    ],
    legendAt: "top", yTitle: "Field Energy", yTitleX: 14,
    caption: "(g) Electric energy.", capX: 311, capY: 1598,
  },
  {
    left: 723, right: 1224, top: 1228, bottom: 1530, yDomain: [-1, 6], yTicks: momTicks, yLabels: momLabels,
    series: cdgSldg(momCdg, momSldg), legendAt: "bottom", yTitle: "Momentum", yTitleX: 645,
    caption: "(h) Momentum.", capX: 961, capY: 1598,
  },
]

export default function App() {
  return (
    <div style={{ position: "absolute", left: 0, top: 0, width: 1253, height: 1613, background: "#fff" }}>
      {PANELS.map((p, i) => (
        <Panel key={i} {...p} />
      ))}
    </div>
  )
}
